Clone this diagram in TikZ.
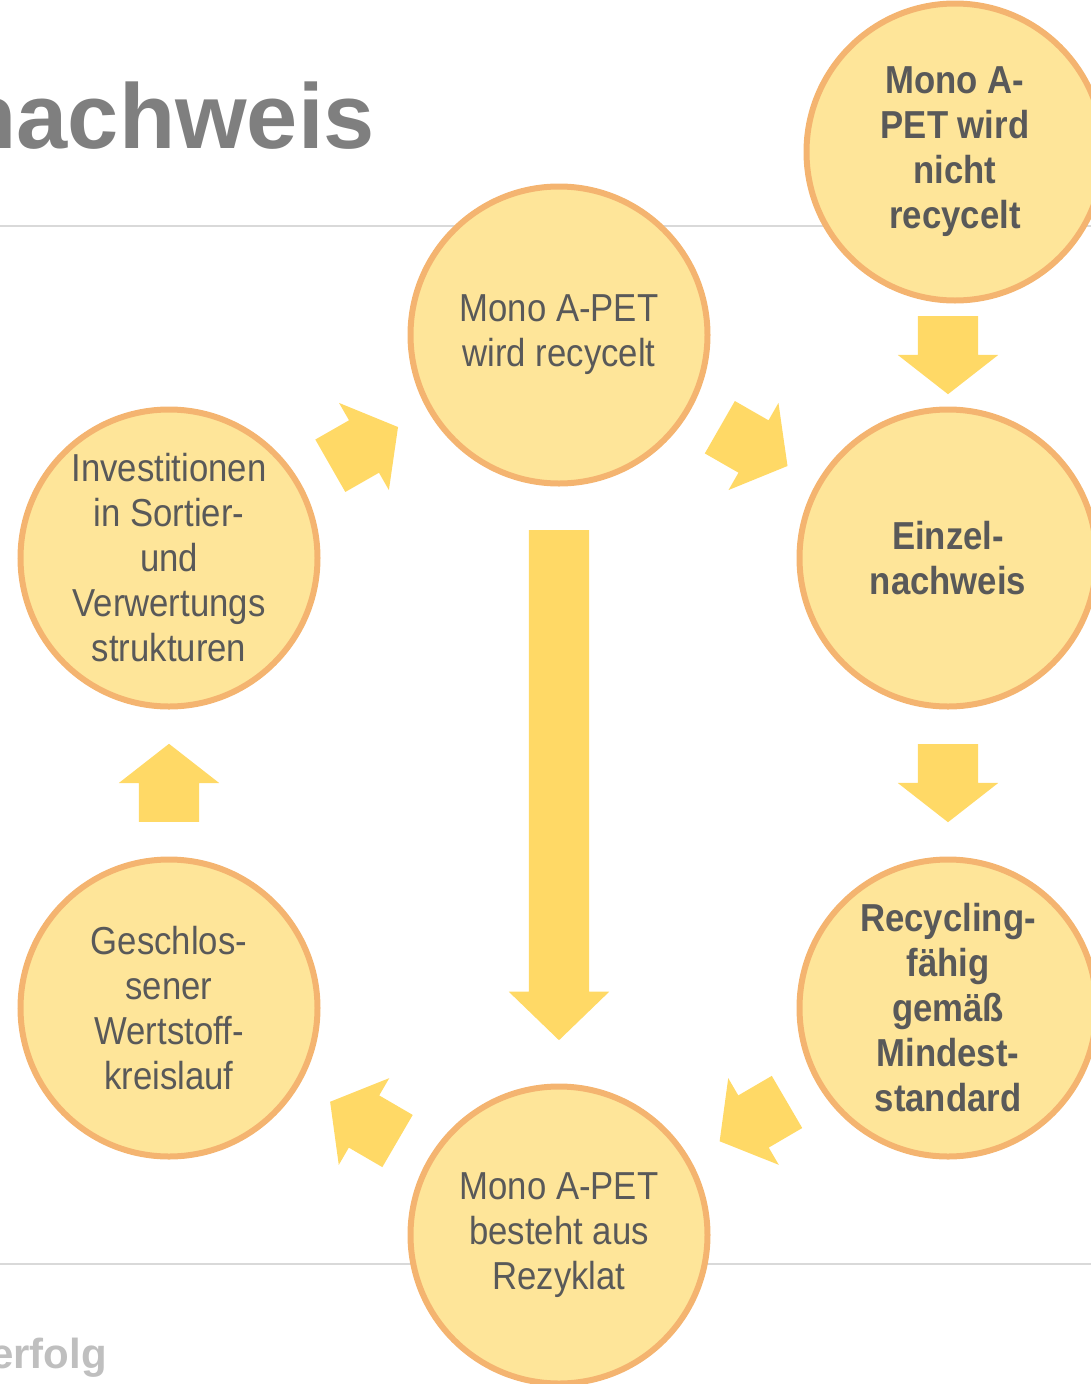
\documentclass[tikz,border=0pt]{standalone}
\usepackage{fontspec}
\setmainfont{Liberation Sans}[FakeStretch=0.89]
\newfontfamily\headfont{Liberation Sans}
\definecolor{ringfill}{HTML}{FEE599}
\definecolor{ringline}{HTML}{F4B470}
\definecolor{arrowfill}{HTML}{FFD966}
\definecolor{textgray}{HTML}{595959}
\definecolor{titlegray}{HTML}{7F7F7F}
\definecolor{footgray}{HTML}{BFBFBF}
\definecolor{rulegray}{HTML}{D9D9D9}
\usetikzlibrary{calc, shapes.arrows}

\begin{document}
\begin{tikzpicture}[x=1pt, y=-1pt,
  stage/.style={circle, draw=ringline, fill=ringfill, line width=6pt,
    minimum size=297pt, inner sep=0pt, align=center, text=textgray,
    font=\fontsize{39}{45}\selectfont},
  stagebold/.style={stage, font=\fontsize{39}{45}\selectfont\bfseries},
  flow/.style={single arrow, fill=arrowfill, draw=none, inner xsep=0pt,
    inner ysep=30pt, minimum width=100pt, minimum height=78pt,
    single arrow head extend=20pt, single arrow tip angle=104,
    sloped, allow upside down, pos=0, anchor=tail},
]
\useasboundingbox (0,0) rectangle (1091,1384);
\clip (0,0) rectangle (1091,1384);

% Slide rules and cut-off headings
\draw[rulegray, line width=2pt] (0,226) -- (1091,226);
\draw[rulegray, line width=2pt] (0,1264) -- (1091,1264);
\node[anchor=base east, inner sep=0pt, text=titlegray,
  font=\headfont\bfseries\fontsize{92}{92}\selectfont] (title) at (375,148) {nachweis};
\node[anchor=base east, inner sep=0pt, text=footgray,
  font=\headfont\bfseries\fontsize{42}{42}\selectfont] (foot) at (107,1368) {erfolg};

% Stages of the cycle
\node[stage] (rec) at (559,335) {Mono A-PET\\wird recycelt};
\node[stagebold] (norec) at (955,152) {Mono A-\\PET wird\\nicht\\recycelt};
\node[stagebold] (einzel) at (948,558) {Einzel-\\nachweis};
\node[stagebold] (fahig) at (948,1008) {Recycling-\\fähig\\gemäß\\Mindest-\\standard};
\node[stage] (rezyk) at (559,1235) {Mono A-PET\\besteht aus\\Rezyklat};
\node[stage] (kreis) at (169,1008) {Geschlos-\\sener\\Wertstoff-\\kreislauf};
\node[stage] (invest) at (169,558) {Investitionen\\in Sortier-\\und\\Verwertungs\\strukturen};

% Block arrows, centred between the stages
\coordinate (above) at (einzel |- norec);
\path ($(above)!0.5!(einzel)!39pt!(above)$) -- node[flow] {} (einzel);
\path ($(rec)!0.5!(einzel)!39pt!(rec)$) -- node[flow] {} (einzel);
\path ($(einzel)!0.5!(fahig)!39pt!(einzel)$) -- node[flow] {} (fahig);
\path ($(fahig)!0.5!(rezyk)!39pt!(fahig)$) -- node[flow] {} (rezyk);
\path ($(rezyk)!0.5!(kreis)!39pt!(rezyk)$) -- node[flow] {} (kreis);
\path ($(kreis)!0.5!(invest)!39pt!(kreis)$) -- node[flow] {} (invest);
\path ($(invest)!0.5!(rec)!39pt!(invest)$) -- node[flow] {} (rec);
\path ($(rec)!0.5!(rezyk)!255pt!(rec)$) -- node[flow, minimum height=510pt,
  single arrow tip angle=92] {} (rezyk);
\end{tikzpicture}
\end{document}
